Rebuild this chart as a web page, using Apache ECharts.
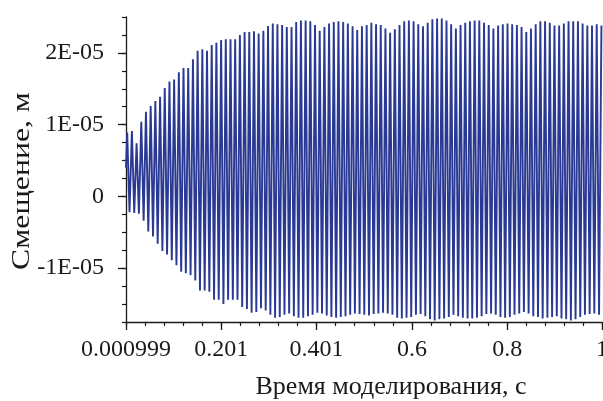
<!DOCTYPE html>
<html>
<head>
<meta charset="utf-8">
<script src="https://cdn.jsdelivr.net/npm/echarts@6/dist/echarts.min.js"></script>
<style>html,body{margin:0;padding:0;background:#fff}#c{width:603px;height:401px}</style>
</head>
<body>
<div id="c"></div>
<script>
// ---- data (displacement in units of 1e-6 m, time in s) ----
const startT = 0.000999;
const startV = 4.0;
const peakT = [0.0035,0.0134,0.0232,0.0331,0.0429,0.0528,0.0626,0.0725,0.0823,0.0922,
0.1020,0.1119,0.1217,0.1316,0.1415,0.1513,0.1612,0.1710,0.1809,0.1907,
0.2006,0.2104,0.2203,0.2301,0.2400,0.2499,0.2597,0.2696,0.2794,0.2893,
0.2991,0.3090,0.3188,0.3287,0.3385,0.3484,0.3582,0.3681,0.3780,0.3878,
0.3977,0.4075,0.4174,0.4272,0.4371,0.4469,0.4568,0.4666,0.4765,0.4863,
0.4962,0.5061,0.5159,0.5258,0.5356,0.5455,0.5553,0.5652,0.5750,0.5849,
0.5947,0.6046,0.6144,0.6243,0.6342,0.6440,0.6539,0.6637,0.6736,0.6834,
0.6933,0.7031,0.7130,0.7228,0.7327,0.7425,0.7524,0.7623,0.7721,0.7820,
0.7918,0.8017,0.8115,0.8214,0.8312,0.8411,0.8509,0.8608,0.8706,0.8805,
0.8904,0.9002,0.9101,0.9199,0.9298,0.9396,0.9495,0.9593,0.9692,0.9790,
0.9889,0.9988];
const peakV = [8.9,9.1,7.4,10.4,11.8,12.6,13.3,13.9,15.1,16.0,
16.3,17.3,17.9,17.9,19.1,20.3,20.5,20.3,21.1,21.4,
21.8,21.9,21.9,21.9,22.5,22.9,22.9,23.0,22.7,23.1,
23.75,24.1,24.0,23.9,23.6,23.6,24.3,24.5,24.5,24.4,
23.9,23.1,23.6,24.1,24.3,24.4,24.3,24.1,23.7,23.2,
23.7,23.9,24.2,24.0,23.9,23.4,22.8,23.3,23.9,24.4,
24.5,24.4,24.0,23.7,24.2,24.7,24.8,24.8,24.5,24.0,
23.4,23.9,24.2,24.4,24.5,24.5,24.2,23.9,23.4,23.8,
24.0,24.1,24.0,23.9,23.6,22.9,23.4,24.0,24.4,24.4,
24.2,23.8,23.8,24.1,24.4,24.4,24.4,24.1,23.8,23.8,
24.0,23.8];
const troughT = [0.0084,0.0183,0.0281,0.0380,0.0478,0.0577,0.0675,0.0774,0.0872,0.0971,
0.1069,0.1168,0.1266,0.1365,0.1464,0.1562,0.1661,0.1759,0.1858,0.1956,
0.2055,0.2153,0.2252,0.2350,0.2449,0.2548,0.2646,0.2745,0.2843,0.2942,
0.3040,0.3139,0.3237,0.3336,0.3434,0.3533,0.3631,0.3730,0.3829,0.3927,
0.4026,0.4124,0.4223,0.4321,0.4420,0.4518,0.4617,0.4715,0.4814,0.4912,
0.5011,0.5110,0.5208,0.5307,0.5405,0.5504,0.5602,0.5701,0.5799,0.5898,
0.5996,0.6095,0.6193,0.6292,0.6391,0.6489,0.6588,0.6686,0.6785,0.6883,
0.6982,0.7080,0.7179,0.7277,0.7376,0.7474,0.7573,0.7672,0.7770,0.7869,
0.7967,0.8066,0.8164,0.8263,0.8361,0.8460,0.8558,0.8657,0.8755,0.8854,
0.8953,0.9051,0.9150,0.9248,0.9347,0.9445,0.9544,0.9642,0.9741,0.9839,
0.9938];
const troughV = [-2.2,-2.3,-2.4,-3.4,-4.9,-5.6,-6.6,-7.6,-8.1,-8.9,
-9.6,-10.5,-10.7,-11.0,-11.7,-13.1,-13.1,-13.3,-14.4,-14.4,
-15.0,-14.4,-14.4,-14.4,-15.4,-15.7,-16.2,-16.1,-15.6,-15.9,
-16.5,-16.9,-16.8,-16.5,-16.3,-16.7,-16.9,-16.9,-16.7,-16.5,
-16.2,-16.3,-16.6,-16.8,-16.9,-16.8,-16.7,-16.5,-16.3,-16.4,
-16.5,-16.6,-16.4,-16.3,-16.2,-16.3,-16.5,-16.9,-17.0,-16.9,
-16.8,-16.5,-16.4,-16.7,-17.1,-17.3,-17.1,-17.0,-16.8,-16.5,
-16.7,-16.9,-17.0,-17.0,-16.9,-16.7,-16.4,-16.3,-16.5,-16.8,
-16.9,-16.8,-16.5,-16.3,-16.1,-16.3,-16.7,-16.8,-17.0,-16.9,
-16.8,-16.7,-17.0,-17.1,-17.3,-17.1,-16.8,-16.5,-16.4,-16.3,
-16.5];
const valueScale = 1e-6;

const xTickValues = [0.000999, 0.200999, 0.400999, 0.600999, 0.800999, 1];
const xTickLabels = ['0.000999', '0.201', '0.401', '0.6', '0.8', '1'];
const yTickValues = [-1e-5, 0, 1e-5, 2e-5];
const yTickLabels = ['-1E-05', '0', '1E-05', '2E-05'];
const xTitle = 'Время моделирования, с';
const yTitle = 'Смещение, м';

// ---- build series ----
const pts = [[startT, startV * valueScale]];
for (let i = 0; i < peakT.length; i++) {
  pts.push([peakT[i], peakV[i] * valueScale]);
  if (i < troughT.length) pts.push([troughT[i], troughV[i] * valueScale]);
}

const FONT = '"Liberation Serif", "Times New Roman", serif';
const black = '#1a1a1a';
const lineColor = '#2a3a94';

function lblX(v) {
  for (let i = 0; i < xTickValues.length; i++) if (Math.abs(v - xTickValues[i]) < 1e-6) return xTickLabels[i];
  return '';
}
function lblY(v) {
  for (let i = 0; i < yTickValues.length; i++) if (Math.abs(v - yTickValues[i]) < 1e-9) return yTickLabels[i];
  return '';
}

const chart = echarts.init(document.getElementById('c'), null, {renderer: 'canvas'});
chart.setOption({
  animation: false,
  backgroundColor: '#fff',
  grid: {left: 126, right: 1, top: 17, bottom: 79, containLabel: false, outerBoundsMode: 'none'},
  xAxis: [{
    type: 'value', min: 0.000999, max: 1, position: 'bottom',
    axisLine: {show: true, onZero: false, lineStyle: {color: black, width: 1.3}},
    axisTick: {show: true, customValues: xTickValues, length: 8, lineStyle: {color: black, width: 1.3}},
    axisLabel: {customValues: xTickValues, formatter: lblX, margin: 16, color: black, fontFamily: FONT, fontSize: 24, hideOverlap: false},
    splitLine: {show: false}
  }, {
    type: 'value', min: 0.000999, max: 1, interval: 0.04, position: 'bottom', offset: 0,
    axisLine: {show: false, onZero: false},
    axisTick: {show: true, length: 4, lineStyle: {color: black, width: 1.2}},
    axisLabel: {show: false},
    splitLine: {show: false}
  }],
  yAxis: [{
    type: 'value', min: -1.75e-5, max: 2.5e-5, position: 'left',
    axisLine: {show: true, onZero: false, lineStyle: {color: black, width: 1.3}},
    axisTick: {show: true, customValues: yTickValues, length: 8, lineStyle: {color: black, width: 1.3}},
    axisLabel: {customValues: yTickValues, formatter: lblY, margin: 22, color: black, fontFamily: FONT, fontSize: 24},
    splitLine: {show: false}
  }, {
    type: 'value', min: -1.75e-5, max: 2.5e-5, interval: 2.5e-6, position: 'left', offset: 0,
    axisLine: {show: false, onZero: false},
    axisTick: {show: true, length: 4, lineStyle: {color: black, width: 1.2}},
    axisLabel: {show: false},
    splitLine: {show: false}
  }],
  series: [{
    type: 'line', xAxisIndex: 0, yAxisIndex: 0, data: pts,
    showSymbol: false, symbol: 'none',
    lineStyle: {color: lineColor, width: 1.9},
    clip: true
  }],
  graphic: [{
    type: 'text', x: 391, y: 387,
    style: {text: xTitle, font: '26px ' + FONT, fill: black, align: 'center', verticalAlign: 'middle'}
  }, {
    type: 'text', x: 22, y: 181, rotation: Math.PI / 2, scaleX: 1.22,
    style: {text: yTitle, font: '26px ' + FONT, fill: black, align: 'center', verticalAlign: 'middle'}
  }]
});
</script>
</body>
</html>
